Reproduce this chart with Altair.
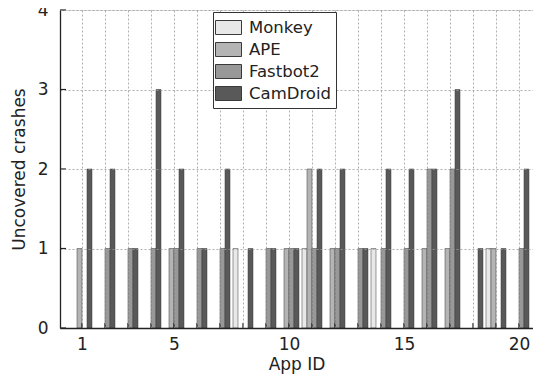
import altair as alt
import pandas as pd

apps = list(range(1, 21))
tools = ["Monkey", "APE", "Fastbot2", "CamDroid"]
monkey   = [0, 0, 0, 0, 0, 0, 0, 1, 0, 0, 1, 0, 0, 1, 0, 0, 0, 0, 1, 0]
ape      = [1, 0, 0, 0, 1, 0, 0, 0, 0, 1, 2, 1, 0, 0, 0, 1, 1, 0, 1, 0]
fastbot2 = [0, 1, 1, 1, 1, 1, 1, 0, 1, 1, 1, 1, 1, 1, 1, 2, 2, 0, 0, 1]
camdroid = [2, 2, 1, 3, 2, 1, 2, 1, 1, 1, 2, 2, 1, 2, 2, 2, 3, 1, 1, 2]
colors = ["#e8e8e8", "#b4b4b4", "#989898", "#595959"]
x_label_values = [1, 5, 10, 15, 20]
y_tick_values = [0, 1, 2, 3, 4]

series = [monkey, ape, fastbot2, camdroid]
rows = []
for i, (tool, vals) in enumerate(zip(tools, series)):
    for app, v in zip(apps, vals):
        rows.append({"app": app, "tool": tool, "idx": i, "crashes": v})
df = pd.DataFrame(rows)

SLOT = 5.0 / 23.0
FONT = "DejaVu Sans"
W, H = 473, 318

xscale = alt.Scale(domain=[0.0435, 20.609], nice=False, zero=False)
yscale = alt.Scale(domain=[0, 4], nice=False)

label_expr = "indexof(" + str(x_label_values) + ", datum.value) >= 0 ? datum.label : ''"

x_axis = alt.Axis(
    title="App ID",
    values=apps,
    labelExpr=label_expr,
    labelOverlap=False,
    grid=True,
    gridDash=[2, 2],
    gridColor="#9a9a9a",
    gridWidth=0.8,
    ticks=False,
    labelPadding=8,
    labelFontSize=17,
    titleFontSize=17,
    titleFontWeight="normal",
    titlePadding=4,
    domainColor="#222222",
    domainWidth=1.3,
    labelColor="#222222",
    titleColor="#222222",
    labelFont=FONT,
    titleFont=FONT,
    labelFlush=False,
    zindex=1,
)

y_axis = alt.Axis(
    title="Uncovered crashes",
    values=y_tick_values,
    format="d",
    labelOverlap=False,
    grid=True,
    gridDash=[2, 2],
    gridColor="#9a9a9a",
    gridWidth=0.8,
    ticks=False,
    labelPadding=12,
    labelFontSize=17,
    titleFontSize=17,
    titleFontWeight="normal",
    titlePadding=9,
    domainColor="#222222",
    domainWidth=1.3,
    labelColor="#222222",
    titleColor="#222222",
    labelFont=FONT,
    titleFont=FONT,
    labelFlush=False,
    zindex=1,
)

bars = (
    alt.Chart(df)
    .transform_filter("datum.crashes > 0")
    .transform_calculate(
        x0=f"datum.app + (datum.idx - 2) * {SLOT}",
        x1=f"datum.app + (datum.idx - 1) * {SLOT}",
    )
    .mark_bar(stroke="#3a3a3a", strokeWidth=0.5)
    .encode(
        x=alt.X("x0:Q", scale=xscale, axis=x_axis),
        x2="x1:Q",
        y=alt.Y("crashes:Q", scale=yscale, axis=y_axis),
        y2=alt.datum(0),
        color=alt.Color(
            "tool:N",
            scale=alt.Scale(domain=tools, range=colors),
            sort=tools,
            legend=alt.Legend(
                title=None,
                orient="none",
                legendX=153,
                legendY=2,
                symbolType="M-1.3,-0.7H1.3V0.7H-1.3Z",
                symbolSize=400,
                symbolStrokeColor="#3a3a3a",
                symbolStrokeWidth=1,
                symbolOpacity=1,
                labelFontSize=16.5,
                labelFont=FONT,
                labelColor="#222222",
                labelOffset=10,
                rowPadding=2,
                padding=5,
                strokeColor="#333333",
                fillColor="white",
                zindex=2,
            ),
        ),
    )
)

xtick_df = pd.DataFrame({"x0": apps})
xticks = (
    alt.Chart(xtick_df)
    .mark_rule(color="#222222", strokeWidth=1.2)
    .encode(
        x=alt.X("x0:Q", scale=xscale, axis=x_axis),
        y=alt.value(H),
        y2=alt.value(H - 5),
    )
)

ytick_df = pd.DataFrame({"crashes": y_tick_values})
yticks = (
    alt.Chart(ytick_df)
    .mark_rule(color="#222222", strokeWidth=1.2)
    .encode(
        y=alt.Y("crashes:Q", scale=yscale, axis=y_axis),
        x=alt.value(0),
        x2=alt.value(6),
    )
)

chart = (
    alt.layer(bars, xticks, yticks)
    .properties(
        width=W,
        height=H,
        autosize=alt.AutoSizeParams(type="none"),
        padding={"left": 52, "top": 2, "right": 0, "bottom": 46},
    )
    .configure_view(stroke=None)
    .configure(background="white")
)

chart.save("out.html", embed_options={"renderer": "svg", "actions": False})
